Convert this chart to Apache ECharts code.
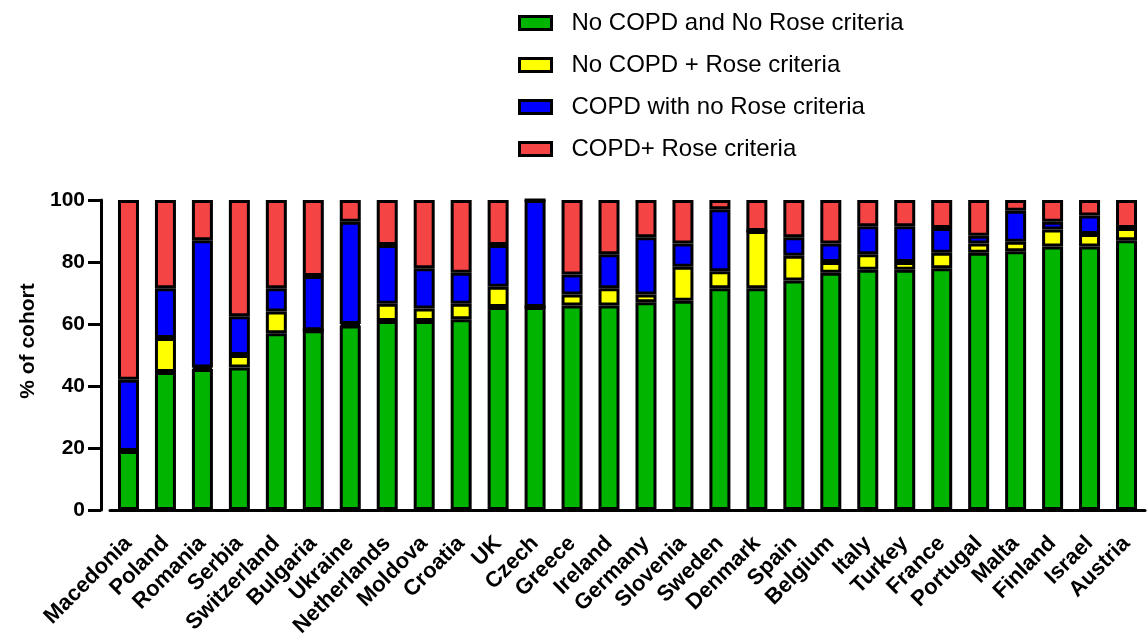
<!DOCTYPE html>
<html>
<head>
<meta charset="utf-8">
<script src="https://cdn.jsdelivr.net/npm/echarts@6/dist/echarts.min.js"></script>
<style>
  html, body { margin: 0; padding: 0; background: #fff; }
  #chart { width: 1147px; height: 641px; }
</style>
</head>
<body>
<div id="chart"></div>
<script>
// countries, sorted by share with no COPD and no Rose criteria
const categories = ['Macedonia', 'Poland', 'Romania', 'Serbia', 'Switzerland', 'Bulgaria', 'Ukraine',
  'Netherlands', 'Moldova', 'Croatia', 'UK', 'Czech', 'Greece', 'Ireland', 'Germany', 'Slovenia',
  'Sweden', 'Denmark', 'Spain', 'Belgium', 'Italy', 'Turkey', 'France', 'Portugal', 'Malta',
  'Finland', 'Israel', 'Austria'];

const noCopdNoRose = [19, 44.5, 45.5, 46, 57, 58, 59.5, 61, 61, 61.5, 65.5, 65.5, 66, 66, 67, 67.5,
  71.5, 71.5, 74, 76.5, 77.5, 77.5, 78, 83, 83.5, 85, 85, 87];
const noCopdRose = [0, 11, 0.5, 4, 7, 0, 0.5, 5.5, 4, 5, 6.5, 0, 3.5, 5.5, 2.5, 11,
  5.5, 18.5, 8, 3.5, 5, 2.5, 5, 3, 3, 5.5, 4, 4];
const copdNoRose = [23, 16, 41, 12.5, 7.5, 17.5, 33, 19, 13, 10, 13.5, 34.5, 6.5, 11, 18.5, 7.5,
  20, 0, 6, 6, 9, 11.5, 8, 2.5, 10, 2.5, 6, 0];
const copdRose = [58, 28.5, 13, 37.5, 28.5, 24.5, 7, 14.5, 22, 23.5, 14.5, 0, 24, 17.5, 12, 14,
  3, 10, 12, 14, 8.5, 8.5, 9, 11.5, 3.5, 7, 5, 9];

const yTicks = [0, 20, 40, 60, 80, 100];

const seriesNames = ['No COPD and No Rose criteria', 'No COPD + Rose criteria',
  'COPD with no Rose criteria', 'COPD+ Rose criteria'];
const seriesColors = ['#00b400', '#ffff00', '#0000ff', '#f44444'];
const seriesData = [noCopdNoRose, noCopdRose, copdNoRose, copdRose];

const chart = echarts.init(document.getElementById('chart'));

const font = 'Arial, "Liberation Sans", Helvetica, sans-serif';

const option = {
  animation: false,
  textStyle: { fontFamily: font },
  legend: {
    orient: 'vertical',
    left: 513,
    top: 6,
    itemWidth: 32,
    itemHeight: 13,
    itemGap: 18,
    icon: 'rect',
    textStyle: { fontSize: 24, color: '#000', lineHeight: 24, padding: [0, 0, 0, 15] },
    itemStyle: { borderColor: '#000', borderWidth: 3 },
    data: seriesNames
  },
  grid: {
    left: 110,
    right: 2,
    top: 200,
    bottom: 131,
    containLabel: false
  },
  xAxis: {
    type: 'category',
    data: categories,
    axisLine: { lineStyle: { color: '#000', width: 3 } },
    axisTick: { alignWithLabel: true, length: 12, lineStyle: { color: '#000', width: 3 } },
    axisLabel: {
      rotate: 45,
      interval: 0,
      margin: 30,
      color: '#000',
      fontWeight: 'bold',
      fontSize: 22
    }
  },
  yAxis: {
    type: 'value',
    min: 0,
    max: 100,
    interval: 20,
    offset: 9,
    name: '% of cohort',
    nameLocation: 'middle',
    nameGap: 52,
    nameTextStyle: { color: '#000', fontWeight: 'bold', fontSize: 21, padding: [0, 0, 0, 28] },
    splitLine: { show: false },
    axisLine: { show: true, lineStyle: { color: '#000', width: 3 } },
    axisTick: { show: true, length: 13, lineStyle: { color: '#000', width: 3 } },
    axisLabel: {
      color: '#000',
      fontWeight: 'bold',
      fontSize: 21,
      margin: 16,
      formatter: function (v) { return yTicks.indexOf(v) >= 0 ? String(v) : ''; }
    }
  },
  series: seriesNames.map(function (name, i) {
    return {
      name: name,
      type: 'bar',
      stack: 'total',
      barWidth: 21,
      itemStyle: { color: seriesColors[i], borderColor: '#000', borderWidth: 3 },
      data: seriesData[i]
    };
  })
};

chart.setOption(option);
</script>
</body>
</html>
